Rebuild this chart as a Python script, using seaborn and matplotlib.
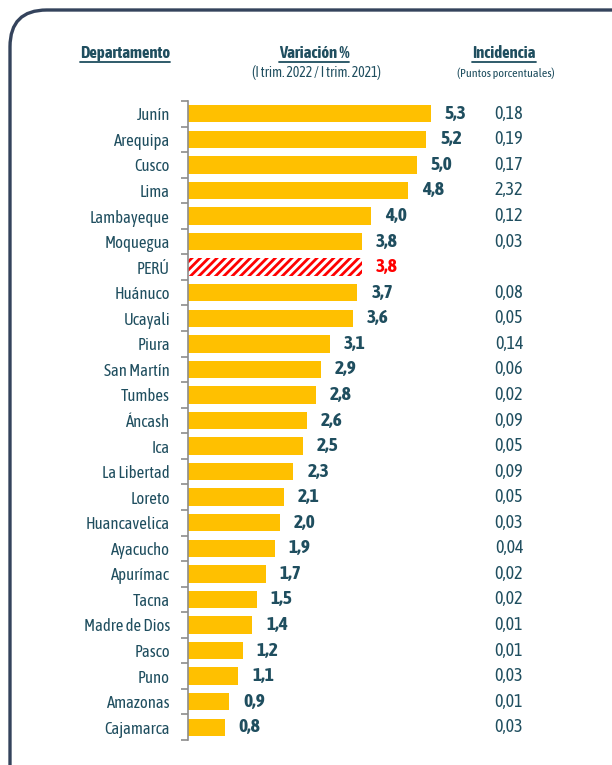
import matplotlib
matplotlib.use("Agg")
import matplotlib.pyplot as plt
import seaborn as sns
import pandas as pd
from matplotlib.patches import FancyBboxPatch
from matplotlib.lines import Line2D
import matplotlib.ticker as mticker

departamentos = ["Junín", "Arequipa", "Cusco", "Lima", "Lambayeque", "Moquegua", "PERÚ",
                 "Huánuco", "Ucayali", "Piura", "San Martín", "Tumbes", "Áncash", "Ica",
                 "La Libertad", "Loreto", "Huancavelica", "Ayacucho", "Apurímac", "Tacna",
                 "Madre de Dios", "Pasco", "Puno", "Amazonas", "Cajamarca"]
variacion = [5.3, 5.2, 5.0, 4.8, 4.0, 3.8, 3.8, 3.7, 3.6, 3.1, 2.9, 2.8, 2.6, 2.5,
             2.3, 2.1, 2.0, 1.9, 1.7, 1.5, 1.4, 1.2, 1.1, 0.9, 0.8]
incidencia = ["0,18", "0,19", "0,17", "2,32", "0,12", "0,03", "",
              "0,08", "0,05", "0,14", "0,06", "0,02", "0,09", "0,05",
              "0,09", "0,05", "0,03", "0,04", "0,02", "0,02", "0,01", "0,01", "0,03", "0,01", "0,03"]

sns.set_style("white")
plt.rcParams['font.family'] = ['Asap Condensed', 'Barlow Semi Condensed', 'DejaVu Sans']
plt.rcParams['hatch.linewidth'] = 2.0

TEXT = "#1F4E5F"
YELLOW = "#FFC000"
RED = "#FF0000"

W, H = 612, 765
fig = plt.figure(figsize=(W / 100, H / 100), dpi=100)
fig.patch.set_facecolor("white")

px_per_unit = 45.8
ax_left, ax_right = 188, 600
ax = fig.add_axes([ax_left / W, 1 - 740 / H, (ax_right - ax_left) / W, (740 - 101) / H])

df = pd.DataFrame({"dep": departamentos, "var": variacion})
sns.barplot(data=df, y="dep", x="var", orient="h", color=YELLOW, saturation=1,
            width=0.68, ax=ax, edgecolor="none")

peru_idx = departamentos.index("PERÚ")
for i, p in enumerate(ax.patches):
    if i == peru_idx:
        p.set_facecolor("white")
        p.set_edgecolor(RED)
        p.set_hatch("////")
        p.set_linewidth(0)

ax.set_xlim(0, (ax_right - ax_left) / px_per_unit)
ax.set_ylim(len(departamentos) - 0.5, -0.5)
ax.set_xlabel("")
ax.set_ylabel("")
ax.set_xticks([])
for s in ["top", "right", "bottom"]:
    ax.spines[s].set_visible(False)
ax.spines["left"].set_color("#8C8C8C")
ax.spines["left"].set_linewidth(1.2)

ax.yaxis.set_minor_locator(mticker.FixedLocator([i - 0.5 for i in range(len(departamentos) + 1)]))
ax.tick_params(axis="y", which="major", length=0, pad=13, labelsize=12, labelcolor=TEXT)
ax.tick_params(axis="y", which="minor", length=5, width=1.2, color="#8C8C8C", direction="out", left=True)

for i, v in enumerate(variacion):
    col = RED if i == peru_idx else TEXT
    ax.annotate(f"{v:.1f}".replace(".", ","), xy=(v, i), xytext=(10, 0),
                textcoords="offset points", ha="left", va="center",
                fontsize=14, fontweight="bold", color=col)

for i, t in enumerate(incidencia):
    if t:
        ax.text((509 - ax_left) / px_per_unit, i, t, ha="center", va="center",
                fontsize=13, color=TEXT)

def header(x, y, s, size, bold, underline=False):
    t = fig.text(x / W, 1 - y / H, s, ha="center", va="center", fontsize=size,
                 fontweight="bold" if bold else "normal", color=TEXT)
    if underline:
        fig.canvas.draw()
        bb = t.get_window_extent(renderer=fig.canvas.get_renderer())
        yline = H - (y + 8.5)
        fig.add_artist(Line2D([bb.x0 / W, bb.x1 / W], [yline / H, yline / H],
                              color=TEXT, linewidth=1.3, transform=fig.transFigure))
    return t

header(125, 53, "Departamento", 12, True, True)
header(314, 53, "Variación %", 12, True, True)
header(504, 53, "Incidencia", 12, True, True)
header(316, 73, "(I trim. 2022 / I trim. 2021)", 10, False)
header(506, 73, "(Puntos porcentuales)", 8.7, False)

box = FancyBboxPatch((10 / W, -40 / H), 660 / W, (755 + 40) / H,
                     boxstyle="round,pad=0,rounding_size=0.06",
                     transform=fig.transFigure, fill=False,
                     edgecolor="#34435C", linewidth=2.4, mutation_aspect=W / H)
fig.add_artist(box)

fig.savefig("out.png", dpi=100, facecolor="white")
